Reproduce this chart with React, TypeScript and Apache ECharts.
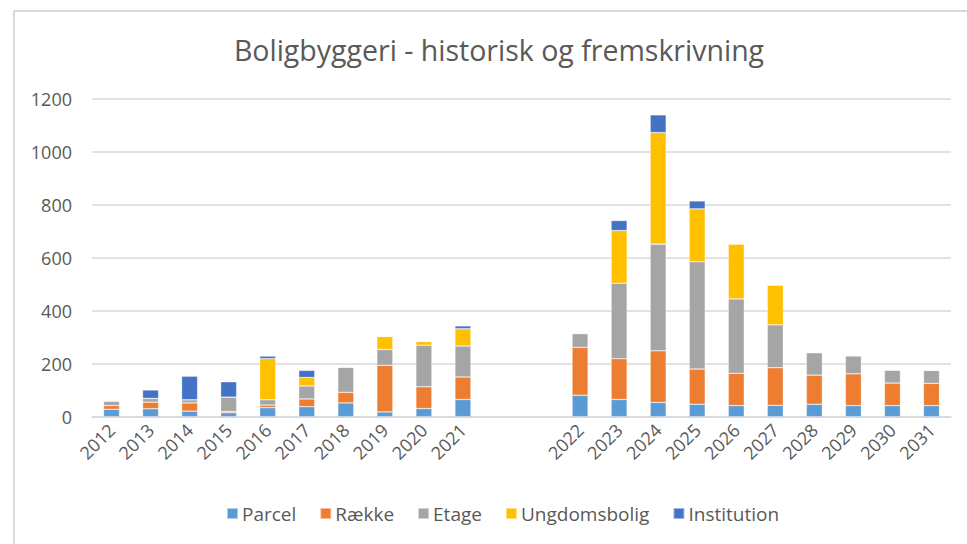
import React, { useEffect, useRef } from "react";
import * as echarts from "echarts";

const categories = [
  "2012", "2013", "2014", "2015", "2016", "2017", "2018", "2019", "2020", "2021",
  "", " ",
  "2022", "2023", "2024", "2025", "2026", "2027", "2028", "2029", "2030", "2031",
];

const parcel = [28, 30, 21, 15, 34, 38, 52, 18, 31, 65, null, null, 81, 65, 54, 47, 42, 43, 47, 42, 42, 42];
const raekke = [14, 25, 31, 5, 10, 29, 40, 176, 82, 85, null, null, 181, 154, 195, 133, 122, 142, 110, 120, 85, 84];
const etage = [17, 14, 12, 54, 20, 49, 95, 60, 157, 117, null, null, 52, 285, 403, 405, 281, 162, 85, 68, 49, 49];
const ungdomsbolig = [0, 0, 0, 0, 155, 32, 0, 49, 14, 65, null, null, 0, 199, 421, 200, 207, 150, 0, 0, 0, 0];
const institution = [0, 32, 89, 58, 10, 27, 0, 0, 0, 11, null, null, 0, 38, 67, 30, 0, 0, 0, 0, 0, 0];

const seriesNames = ["Parcel", "Række", "Etage", "Ungdomsbolig", "Institution"];
const seriesData = [parcel, raekke, etage, ungdomsbolig, institution];
const colors = ["#5B9BD5", "#ED7D31", "#A5A5A5", "#FFC000", "#4472C4"];

const yTicks = { min: 0, max: 1200, interval: 200 };

export default function App() {
  const ref = useRef<HTMLDivElement>(null);
  useEffect(() => {
    if (!ref.current) return;
    const chart = echarts.init(ref.current, undefined, { renderer: "svg" });
    const font = "'Open Sans', sans-serif";
    chart.setOption({
      animation: false,
      backgroundColor: "#ffffff",
      title: {
        text: "Boligbyggeri - historisk og fremskrivning",
        left: 494,
        textAlign: "center",
        top: 30,
        textStyle: { fontFamily: font, fontSize: 28.5, fontWeight: "normal", color: "#595959" },
      },
      graphic: [
        {
          type: "rect",
          z: -10,
          shape: { x: 14, y: 11, width: 1000, height: 600 },
          style: { fill: "none", stroke: "#D9D9D9", lineWidth: 2 },
        },
      ],
      legend: {
        data: seriesNames,
        bottom: 16,
        left: 221,
        itemWidth: 11,
        itemHeight: 11,
        itemGap: 23,
        icon: "rect",
        textStyle: { fontFamily: font, fontSize: 19, color: "#595959", padding: [0, 0, 0, -1] },
      },
      grid: { left: 92, right: 16, top: 99, bottom: 127.3, containLabel: false },
      xAxis: {
        type: "category",
        data: categories,
        axisTick: { show: false },
        axisLine: { show: true, lineStyle: { color: "#D9D9D9", width: 1.5 } },
        axisLabel: {
          rotate: 45,
          interval: 0,
          margin: 10,
          fontFamily: font,
          fontSize: 18,
          color: "#595959",
        },
      },
      yAxis: {
        type: "value",
        min: yTicks.min,
        max: yTicks.max,
        interval: yTicks.interval,
        axisLine: { show: false },
        axisTick: { show: false },
        splitLine: { lineStyle: { color: "#D9D9D9", width: 1.5 } },
        axisLabel: {
          fontFamily: font,
          fontSize: 18,
          color: "#595959",
          margin: 20,
          formatter: (v: number) => String(v),
        },
      },
      series: seriesNames.map((name, i) => ({
        name,
        type: "bar",
        stack: "total",
        barWidth: 16,
        data: seriesData[i],
        itemStyle: { color: colors[i], borderColor: "rgba(255,255,255,0.5)", borderWidth: 0.6 },
      })),
    });
    return () => chart.dispose();
  }, []);
  return (
    <div
      ref={ref}
      style={{ position: "absolute", left: 0, top: 0, width: 967, height: 544 }}
    />
  );
}
